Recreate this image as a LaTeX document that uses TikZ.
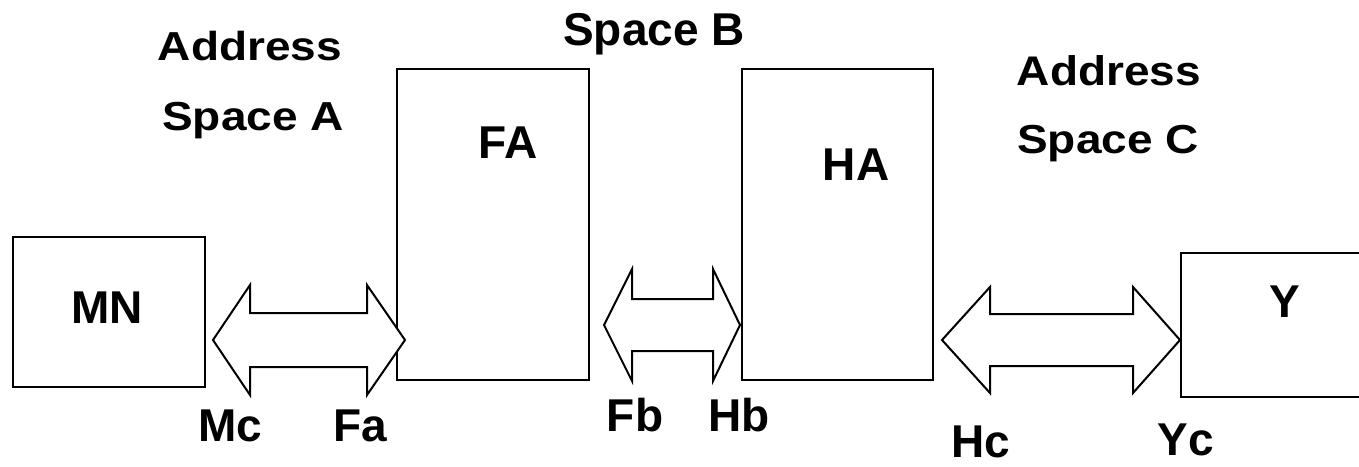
\documentclass[tikz,border=0pt]{standalone}
\usepackage{fontspec}
\setmainfont{Liberation Sans}
\begin{document}
\begin{tikzpicture}[x=1pt,y=-1pt,
  box/.style={draw,line width=2pt,rectangle,inner sep=0pt},
  lbl/.style={inner sep=0pt,anchor=base,font=\fontsize{46}{50}\selectfont\bfseries},
  dblarrow/.style={draw,line width=2pt,line join=miter,fill=white}]
\useasboundingbox (0,0) rectangle (1359,466);
% boxes
\node[box,minimum width=192pt,minimum height=150pt] (mn) at (109,312) {};
\node[box,minimum width=192pt,minimum height=311pt] (fa) at (493,224.5) {};
\node[box,minimum width=191pt,minimum height=311pt] (ha) at (837.5,224.5) {};
\node[box,minimum width=192pt,minimum height=144pt] (y) at (1277,325) {};
% arrow 1 : MN <-> FA
\coordinate (a1l) at (213,340);
\coordinate (a1r) at (405,340);
\draw[dblarrow] (a1l) -- (250,285) -- (250,313) -- (367,313) -- (367,285) -- (a1r)
  -- (367,395) -- (367,367) -- (250,367) -- (250,395) -- cycle;
% arrow 2 : FA <-> HA
\coordinate (a2l) at (604,325);
\coordinate (a2r) at (740,325);
\draw[dblarrow] (a2l) -- (632,269) -- (632,299) -- (713,299) -- (713,269) -- (a2r)
  -- (713,381) -- (713,351) -- (632,351) -- (632,381) -- cycle;
% arrow 3 : HA <-> Y
\coordinate (a3l) at (942,340);
\coordinate (a3r) at (1180,340);
\draw[dblarrow] (a3l) -- (990,287) -- (990,314) -- (1133,314) -- (1133,287) -- (a3r)
  -- (1133,393) -- (1133,366) -- (990,366) -- (990,393) -- cycle;
% labels
\node[lbl] (addrA) at (250,60) {\scalebox{1}[0.88]{Address}};
\node[lbl] (spA) at (253,130) {\scalebox{1}[0.88]{Space A}};
\node[lbl] (spB) at (654,45) {Space B};
\node[lbl] (addrC) at (1109,85) {\scalebox{1}[0.9]{Address}};
\node[lbl] (spC) at (1108,153) {\scalebox{1}[0.88]{Space C}};
\node[lbl] (tFA) at (508,158) {FA};
\node[lbl] (tHA) at (856,180) {HA};
\node[lbl] (tMN) at (107,323) {MN};
\node[lbl] (tY) at (1285,317) {Y};
\node[lbl] (Mc) at (230,441) {Mc};
\node[lbl] (Fa) at (360,441) {Fa};
\node[lbl] (Fb) at (635,431) {Fb};
\node[lbl] (Hb) at (739,431) {Hb};
\node[lbl,text depth=0pt] (Hc) at (981,457) {Hc};
\node[lbl] (Yc) at (1186,455) {Yc};
\end{tikzpicture}
\end{document}
